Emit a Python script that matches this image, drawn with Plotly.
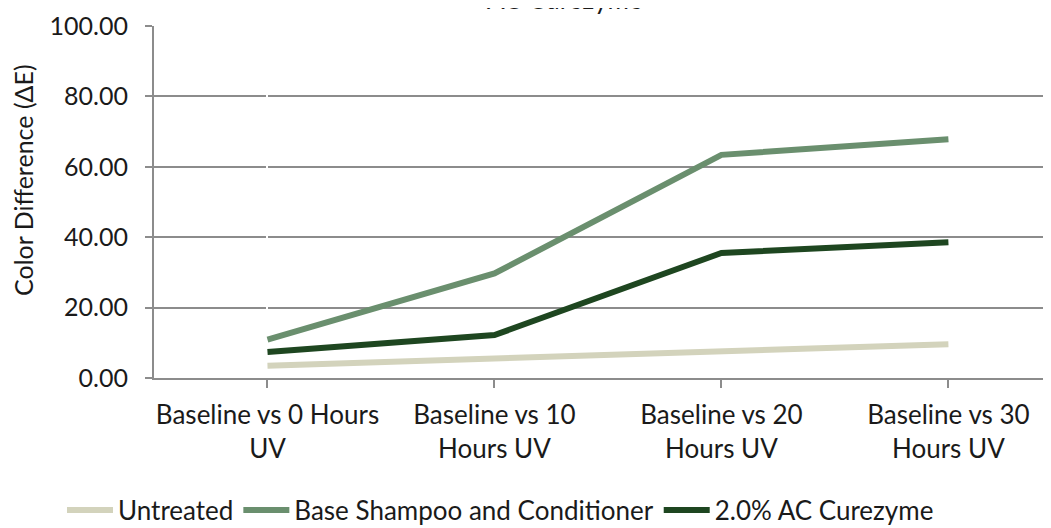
import plotly.graph_objects as go

categories = ["Baseline vs 0 Hours<br>UV", "Baseline vs 10<br>Hours UV",
              "Baseline vs 20<br>Hours UV", "Baseline vs 30<br>Hours UV"]
untreated = [3.5, 5.6, 7.6, 9.6]
base_shampoo = [10.9, 29.7, 63.4, 67.8]
curezyme = [7.4, 12.2, 35.5, 38.6]
series_names = ["Untreated", "Base Shampoo and Conditioner", "2.0% AC Curezyme"]
y_ticks = [0, 20, 40, 60, 80, 100]

colors = ["#D3D3BC", "#6A8F6E", "#1E4620"]
FONT = "Lato"
OFF = 8  # page body margin
W, H = 1051 - OFF, 528 - OFF
L, T = 154 - OFF, 26 - OFF
BOT = 378 - OFF
B = H - BOT
PW, PH = W - L, BOT - T


def py(page_y):
    return (BOT - (page_y - OFF)) / PH


def px(page_x):
    return (page_x - OFF - L) / PW


fig = go.Figure()
for name, vals, col in zip(series_names, [untreated, base_shampoo, curezyme], colors):
    fig.add_trace(go.Scatter(x=list(range(len(categories))), y=vals, name=name, mode="lines",
                             line=dict(color=col, width=6)))

fig.update_layout(
    width=W, height=H,
    margin=dict(l=L, r=0, t=T, b=B, autoexpand=False),
    plot_bgcolor="white", paper_bgcolor="white",
    font=dict(family=FONT, color="#1a1a1a", size=22),
    showlegend=True,
    legend=dict(orientation="h", xref="container", x=(62 - OFF) / W, xanchor="left",
                y=py(510), yanchor="middle", font=dict(size=26, family=FONT), itemwidth=46),
    xaxis=dict(tickmode="array", tickvals=list(range(len(categories))), ticktext=categories,
               range=[-0.5, 3.452], showgrid=False, showline=True, linecolor="#8C8C8C",
               linewidth=2, ticks="outside", tickson="boundaries", ticklen=8,
               tickcolor="#8C8C8C", tickwidth=2, tickfont=dict(size=26, family=FONT),
               ticklabelstandoff=5, automargin=False),
    yaxis=dict(range=[0, 100], tickvals=y_ticks, tickformat=".2f", showgrid=True,
               gridcolor="#8C8C8C", gridwidth=2, showline=True, linecolor="#8C8C8C",
               linewidth=2, ticks="outside", ticklen=7, tickcolor="#8C8C8C", tickwidth=2,
               zeroline=False, tickfont=dict(size=25, family=FONT), ticklabelstandoff=12,
               automargin=False),
)
fig.add_annotation(text="Color Difference (ΔE)", xref="paper", yref="paper",
                   x=px(23), y=py(180), textangle=-90, showarrow=False,
                   font=dict(size=25, family=FONT, color="#1a1a1a"),
                   xanchor="center", yanchor="middle")
fig.add_annotation(text="AC Curezyme", xref="paper", yref="paper", x=px(565),
                   y=py(-1), showarrow=False, font=dict(size=26, family=FONT, color="#1a1a1a"),
                   xanchor="center", yanchor="middle")

fig.write_html("out.html")
